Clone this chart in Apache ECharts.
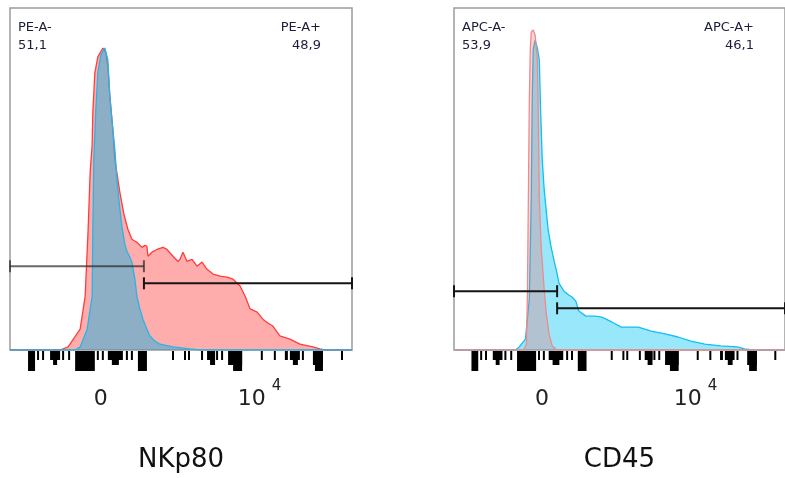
<!DOCTYPE html>
<html><head><meta charset="utf-8">
<script src="https://cdn.jsdelivr.net/npm/echarts@6/dist/echarts.min.js"></script>
<style>html,body{margin:0;padding:0;background:#fff}#c{width:785px;height:478px}</style>
</head><body><div id="c"></div>
<script>
// ---- data (x in display channels 0..1024, y in % of panel height) ----
const panelTitles = ['NKp80', 'CD45'];
const axisLabelValues = [272, 747];
const axisLabelTexts = ['0', '10^4'];

const nkp80Stained = [[0,0],[150,0],[174,0.9],[210,6.1],[225,15.7],[234,35.3],[240,52],[246,60],[248,69.4],[254,81.0],[263,85.7],[278,88.3],[287,87],[293,83],[299,74.1],[308,64.4],[314,55.7],[329,46.1],[341,39.7],[353,35.3],[365,32.4],[380,31.5],[395,30.0],[404,30.6],[410,30.3],[413,27.4],[425,28.6],[440,29.4],[458,30.0],[470,29.4],[488,27.4],[503,25.9],[509,26.5],[518,28.6],[530,25.9],[545,26.5],[560,24.5],[575,25.7],[590,23.6],[608,22.2],[629,21.6],[650,21.3],[668,20.7],[689,18.7],[704,15.7],[719,12.0],[740,11.1],[757,9.0],[772,7.9],[787,7.0],[808,4.1],[838,3.2],[868,1.7],[907,0.9],[928,0.3],[943,0],[1024,0]];
const nkp80Isotype = [[0,0],[195,0],[210,0.9],[231,6.1],[246,15.7],[248,35.3],[251,55.7],[257,70.3],[263,81.0],[272,86.3],[284,88.3],[293,84.8],[299,74.1],[308,64.4],[314,58.6],[320,49.9],[329,41.1],[335,36.2],[344,30.9],[350,28.9],[359,27.1],[365,25.7],[374,20.7],[380,15.7],[389,12.0],[398,9.0],[410,6.1],[419,4.1],[434,2.6],[449,1.7],[488,0.9],[539,0.3],[569,0],[1024,0]];
const cd45Stained = [[0,0],[190,0],[202,0.9],[221,3.2],[233,14.9],[239,44.0],[242,73.2],[245,87.8],[251,90.7],[258,88.3],[264,84.8],[267,73.2],[273,55.7],[279,46.9],[285,41.1],[291,35.3],[300,30.3],[310,25.9],[316,23.6],[325,19.5],[340,17.2],[356,16.0],[365,15.5],[377,14.3],[386,11.4],[408,9.9],[438,9.9],[457,9.6],[488,8.2],[518,6.7],[570,6.7],[610,5.5],[653,4.7],[693,3.8],[733,2.6],[776,1.7],[825,1.2],[877,0.9],[898,0.3],[923,0],[1024,0]];
const cd45Control = [[0,0],[215,0],[224,1.7],[227,15.7],[230,44.0],[233,73.2],[236,87.8],[239,93.0],[245,93.6],[251,92.1],[258,84.8],[261,67.3],[264,44.0],[270,29.4],[273,25.7],[279,17.8],[285,11.1],[294,4.7],[304,1.2],[319,0],[1024,0]];

const gateRangesNK = [[0,401],[401,1024]];
const gateLevelsNK = [24.5, 19.5];
const gateNamesNK = ['PE-A-', 'PE-A+'];
const gatePctNK = ['51,1', '48,9'];
const gateRangesCD = [[0,319],[319,1024]];
const gateLevelsCD = [17.2, 12.2];
const gateNamesCD = ['APC-A-', 'APC-A+'];
const gatePctCD = ['53,9', '46,1'];

// axis tick marks: [start, end, level] (level 1 minor, 2 mid, 3 major)
const axisTicks = [[54,75,3],[84,84,1],[99,99,1],[120,150,1],[129,141,2],[159,159,1],[177,177,1],[195,254,3],[263,263,1],[278,278,1],[293,338,1],[305,326,2],[350,350,1],[365,365,1],[383,410,3],[488,488,1],[524,524,1],[536,536,1],[575,575,1],[590,614,1],[599,614,2],[620,620,1],[635,635,1],[653,695,2],[668,695,3],[754,754,1],[793,793,1],[823,832,1],[838,868,1],[847,862,2],[877,877,1],[907,937,2],[913,937,3],[994,994,1]];

// ---- chart ----
const FONT = 'DejaVu Sans';
const chart = echarts.init(document.getElementById('c'), null, {renderer: 'canvas'});
const tickLen = {1: 9, 2: 14, 3: 20};

function gateData(ranges, levels, names, pcts) {
  return ranges.map((r, i) => [r[0], r[1], levels[i], names[i], pcts[i]]);
}

function gateRender(negColor) {
  return function (params, api) {
    const x0 = api.value(0), x1 = api.value(1), y = api.value(2);
    const p0 = api.coord([x0, y]), p1 = api.coord([x1, y]);
    const cs = params.coordSys;
    const neg = params.dataIndex === 0;
    const col = neg ? negColor : '#151515';
    const st = {stroke: col, lineWidth: 2};
    const tx = neg ? cs.x + 8 : cs.x + cs.width - 31;
    const align = neg ? 'left' : 'right';
    return {type: 'group', children: [
      {type: 'line', shape: {x1: p0[0], y1: p0[1], x2: p1[0], y2: p1[1]}, style: st},
      {type: 'line', shape: {x1: p0[0], y1: p0[1] - 6, x2: p0[0], y2: p0[1] + 6}, style: st},
      {type: 'line', shape: {x1: p1[0], y1: p1[1] - 6, x2: p1[0], y2: p1[1] + 6}, style: st},
      {type: 'text', style: {text: api.value(3), x: tx, y: cs.y + 20, align: align, verticalAlign: 'middle', font: '13px "' + FONT + '"', fill: '#1c1c3c'}},
      {type: 'text', style: {text: api.value(4), x: tx, y: cs.y + 38, align: align, verticalAlign: 'middle', font: '13px "' + FONT + '"', fill: '#1c1c3c'}}
    ]};
  };
}

function tickRender(params, api) {
  const a = api.coord([api.value(0), 0]);
  const b = api.coord([api.value(1), 0]);
  const w = Math.max(b[0] - a[0], 2);
  return {type: 'rect', shape: {x: a[0] - (b[0] > a[0] ? 0 : 1), y: a[1] + 1, width: w, height: tickLen[api.value(2)]}, style: {fill: '#000'}};
}

function makeX(idx) {
  return {
    gridIndex: idx, type: 'value', min: 0, max: 1024,
    axisLine: {show: false}, axisTick: {show: false}, splitLine: {show: false},
    axisLabel: {
      customValues: axisLabelValues, margin: 60, verticalAlign: 'bottom',
      formatter: function (v) {
        const t = axisLabelTexts[axisLabelValues.indexOf(v)];
        if (t && t.indexOf('^') > 0) { const p = t.split('^'); return '{b|' + p[0] + '}{s|' + p[1] + '}'; }
        return '{b|' + t + '}';
      },
      rich: {
        b: {fontFamily: FONT, fontSize: 22, color: '#222', lineHeight: 22, verticalAlign: 'bottom'},
        s: {fontFamily: FONT, fontSize: 15, color: '#222', lineHeight: 15, padding: [0, 0, 16, 6], verticalAlign: 'bottom'}
      }
    },
    name: panelTitles[idx], nameLocation: 'middle', nameGap: 97,
    nameTextStyle: {fontFamily: FONT, fontSize: 26, color: '#111'}
  };
}

function makeY(idx) {
  return {gridIndex: idx, type: 'value', min: 0, max: 100, show: false};
}

function hist(idx, data, line, area, z) {
  return {type: 'line', xAxisIndex: idx, yAxisIndex: idx, data: data, showSymbol: false, symbol: 'none',
    lineStyle: {color: line, width: 1.3}, areaStyle: {color: area, opacity: 1}, z: z, silent: true, animation: false};
}

chart.setOption({
  backgroundColor: '#fff',
  animation: false,
  grid: [
    {left: 10, top: 8, width: 342, height: 343, show: true, borderColor: '#9c9c9c', borderWidth: 1.5, backgroundColor: 'transparent'},
    {left: 454, top: 8, width: 334, height: 343, show: true, borderColor: '#9c9c9c', borderWidth: 1.5, backgroundColor: 'transparent'}
  ],
  xAxis: [makeX(0), makeX(1)],
  yAxis: [makeY(0), makeY(1)],
  series: [
    hist(0, nkp80Stained, '#ff3d3d', 'rgba(255,70,70,0.45)', 2),
    hist(0, nkp80Isotype, '#2ab4e6', 'rgba(25,177,223,0.5)', 3),
    hist(1, cd45Stained, '#12bff0', 'rgba(0,195,245,0.4)', 2),
    hist(1, cd45Control, '#f08a8a', 'rgba(240,110,110,0.3)', 3),
    {type: 'custom', xAxisIndex: 0, yAxisIndex: 0, clip: false, z: 5, renderItem: tickRender, data: axisTicks, silent: true},
    {type: 'custom', xAxisIndex: 1, yAxisIndex: 1, clip: false, z: 5, renderItem: tickRender, data: axisTicks, silent: true},
    {type: 'custom', xAxisIndex: 0, yAxisIndex: 0, clip: false, z: 6, renderItem: gateRender('rgba(40,40,40,0.7)'), data: gateData(gateRangesNK, gateLevelsNK, gateNamesNK, gatePctNK), silent: true},
    {type: 'custom', xAxisIndex: 1, yAxisIndex: 1, clip: false, z: 6, renderItem: gateRender('#151515'), data: gateData(gateRangesCD, gateLevelsCD, gateNamesCD, gatePctCD), silent: true}
  ]
});
</script>
</body></html>
